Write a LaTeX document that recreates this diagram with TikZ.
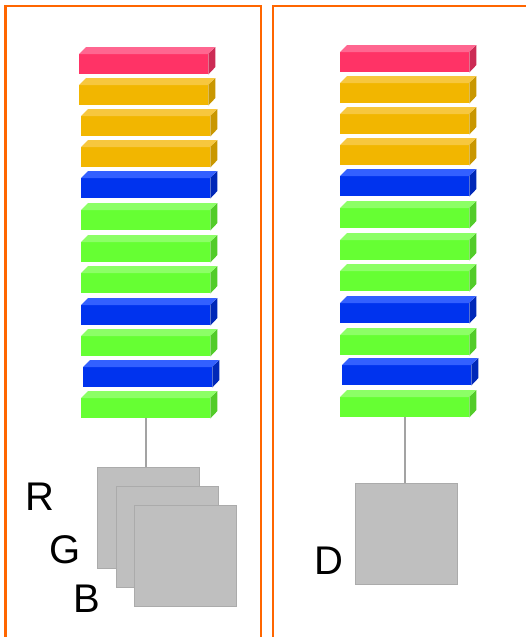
\documentclass[tikz,border=0pt]{standalone}
\usepackage{fontspec}
\setmainfont{Liberation Sans}
\definecolor{frameor}{HTML}{FF6600}
\definecolor{redF}{HTML}{FF3366}\definecolor{redT}{HTML}{FF6690}\definecolor{redS}{HTML}{CC2B55}
\definecolor{yelF}{HTML}{F2B600}\definecolor{yelT}{HTML}{F7C73E}\definecolor{yelS}{HTML}{C99700}
\definecolor{bluF}{HTML}{0033EE}\definecolor{bluT}{HTML}{3360FF}\definecolor{bluS}{HTML}{0028B8}
\definecolor{grnF}{HTML}{66FF33}\definecolor{grnT}{HTML}{8CFF66}\definecolor{grnS}{HTML}{52CC29}
\definecolor{sqfill}{HTML}{BFBFBF}\definecolor{sqedge}{HTML}{ABABAB}
\definecolor{conn}{HTML}{A3A3A3}
\tikzset{
  panel/.style={draw=frameor,line width=2.5pt},
  front/.style={rectangle,inner sep=0,minimum width=129pt,minimum height=20pt,anchor=north west},
  chan/.style={rectangle,fill=sqfill,draw=sqedge,line width=0.8pt,inner sep=0,minimum width=102pt,minimum height=101pt},
  lbl/.style={inner sep=0,font=\fontsize{40}{40}\selectfont},
  wire/.style={draw=conn,line width=2pt}
}
\newcommand\layerbar[5]{% name, x, y, colour prefix
  \node[front,fill=#4F] (#1) at (#2,#3) {};
  \fill[#4T] (#1.north west) -- ++(7,-7) -- ++(129,0) -- (#1.north east) -- cycle;
  \fill[#4S] (#1.north east) -- ++(7,-7) -- ++(0,20) -- (#1.south east) -- cycle;
}
\begin{document}
\begin{tikzpicture}[x=1pt,y=-1pt]
\useasboundingbox (0,0) rectangle (525,637);
% panels
\draw[panel] (5.5,645) -- (5.5,6) -- (261,6) -- (261,645);
\draw[panel] (273,645) -- (273,6) -- (530,6);
% left stack
\foreach \n/\x/\y/\c in {1/79/54/red,2/79/85/yel,3/81/116/yel,4/81/147/yel,5/81/178/blu,6/81/210/grn,7/81/242/grn,8/81/273/grn,9/81/305/blu,10/81/336/grn,11/83/367/blu,12/81/398/grn}{
  \layerbar{L\n}{\x}{\y}{\c}
}
% right stack
\foreach \n/\x/\y/\c in {1/340/52/red,2/340/83/yel,3/340/114/yel,4/340/145/yel,5/340/176/blu,6/340/208/grn,7/340/240/grn,8/340/271/grn,9/340/303/blu,10/340/335/grn,11/342/365/blu,12/340/397/grn}{
  \layerbar{R\n}{\x}{\y}{\c}
}
% channel squares
\node[chan] (sqR) at (148.5,517.5) {};
\node[chan] (sqG) at (167,536.5) {};
\node[chan] (sqB) at (185.5,555.5) {};
\node[chan] (sqD) at (406,533.5) {};
% connectors
\draw[wire] (L12.south) -- (L12.south |- sqR.north);
\draw[wire] (R12.south) -- (R12.south |- sqD.north);
% labels
\node[lbl] (tR) at (40,497) {R};
\node[lbl] (tG) at (65,550) {G};
\node[lbl] (tB) at (87,599) {B};
\node[lbl] (tD) at (329,561) {D};
\end{tikzpicture}
\end{document}
